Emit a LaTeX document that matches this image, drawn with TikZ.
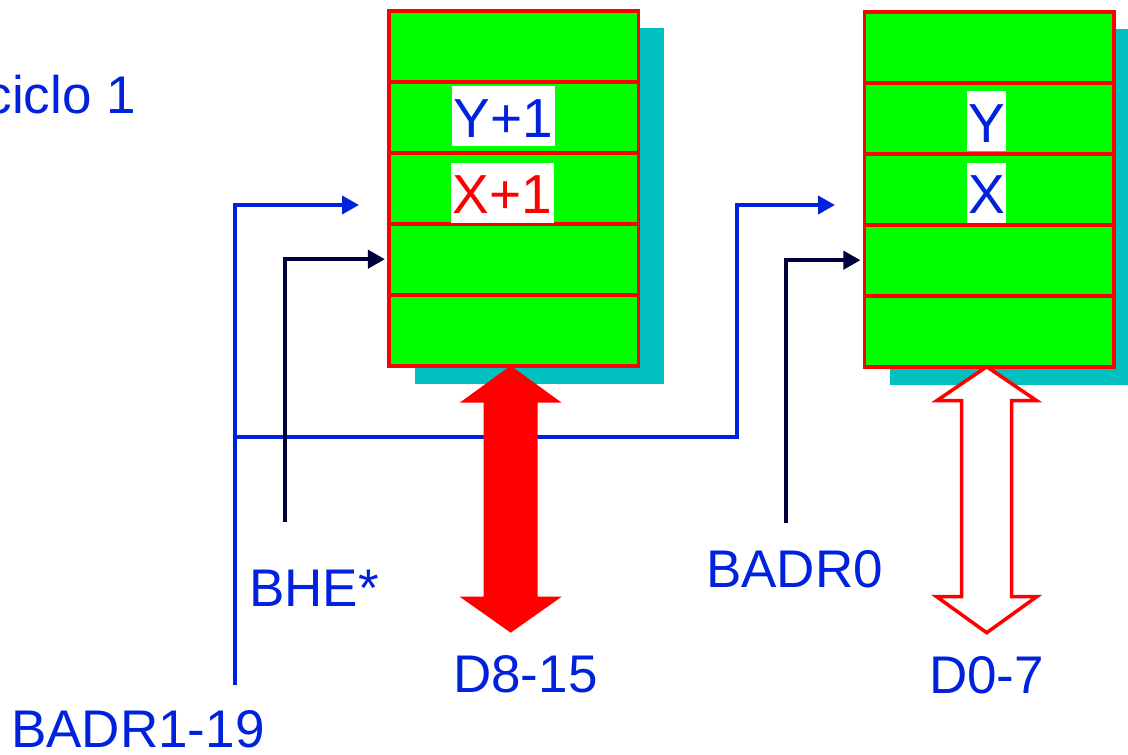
\documentclass[tikz,border=0pt]{standalone}
\usepackage{fontspec}
\setmainfont{Liberation Sans}
\usetikzlibrary{arrows.meta}
\definecolor{cellgreen}{RGB}{0,255,0}
\definecolor{ghostcyan}{RGB}{0,192,192}
\definecolor{labelblue}{RGB}{0,34,221}
\definecolor{ctlnavy}{RGB}{0,0,60}
\begin{document}
\begin{tikzpicture}[
    x=1pt,y=-1pt,
    font=\fontsize{53}{60}\selectfont,
    cell/.style={draw=red, fill=cellgreen, line width=3.6pt, minimum width=249.5pt, minimum height=71pt, inner sep=0pt, outer sep=0pt},
    ghost/.style={fill=ghostcyan},
    tag/.style={fill=white, font=\fontsize{55}{60}\selectfont, inner xsep=1.5pt, inner ysep=0pt, text height=51pt, text depth=9pt, anchor=base},
    lbl/.style={text=labelblue, inner sep=0pt, anchor=base west},
    addr/.style={draw=labelblue, line width=4pt, -{Triangle[length=17pt,width=18pt]}},
    ctl/.style={draw=ctlnavy, line width=4pt, -{Triangle[length=17pt,width=18pt]}, shorten >=4pt},
    busfull/.style={fill=red},
    busopen/.style={draw=red, fill=white, line width=3.5pt, line join=miter}
]
\useasboundingbox (0,0) rectangle (1128,755);

\fill[ghost] (414.5,28) rectangle (664,383.5);
\fill[ghost] (889.5,29) rectangle (1140,384.5);

\foreach \i in {1,...,5} {
    \node[cell] (a\i) at (513.7,{10.7+71*(\i-0.5)}) {};
    \node[cell] (b\i) at (989.2,{11.7+71*(\i-0.5)}) {};
}

\node[tag, text=labelblue] (ya) at (503.5,137) {Y+1};
\node[tag, text=red] (xa) at (502.5,213.5) {X+1};
\node[tag, text=labelblue] (yb) at (986.5,142) {Y};
\node[tag, text=labelblue] (xb) at (986.5,213.5) {X};

\coordinate (badr) at (235.3,685);
\coordinate (fork) at (235.3,437);
\coordinate (bend) at (737,205);
\coordinate (enda) at (359,205);
\coordinate (endb) at (835,205);
\coordinate (bhe) at (284.5,522);
\coordinate (bzero) at (786,523);

\draw[addr] (badr) |- (enda);
\draw[addr] (fork) -| (bend) -- (endb);
\draw[ctl] (bhe) |- (a4.west);
\draw[ctl] (bzero) |- (b4.west);

\fill[busfull] ([xshift=-3pt]a5.south) -- ++(51,37) -- ++(-24,0) -- ++(0,194) -- ++(24,0)
    -- ++(-51,36) -- ++(-51,-36) -- ++(24,0) -- ++(0,-194) -- ++(-24,0) -- cycle;
\draw[busopen] ([xshift=-2.5pt]b5.south) -- ++(50,34) -- ++(-25,0) -- ++(0,196) -- ++(25,0)
    -- ++(-50,36) -- ++(-50,-36) -- ++(25,0) -- ++(0,-196) -- ++(-25,0) -- cycle;

\node[lbl, anchor=base east] (cyc) at (136,113) {ciclo 1};
\node[lbl] (badrlbl) at (11,747) {BADR1-19};
\node[lbl] (bhelbl) at (249,606) {BHE*};
\node[lbl] (bzerolbl) at (706,587) {BADR0};
\node[lbl] (dhi) at (453,692) {D8-15};
\node[lbl] (dlo) at (929,693) {D0-7};

\end{tikzpicture}
\end{document}
